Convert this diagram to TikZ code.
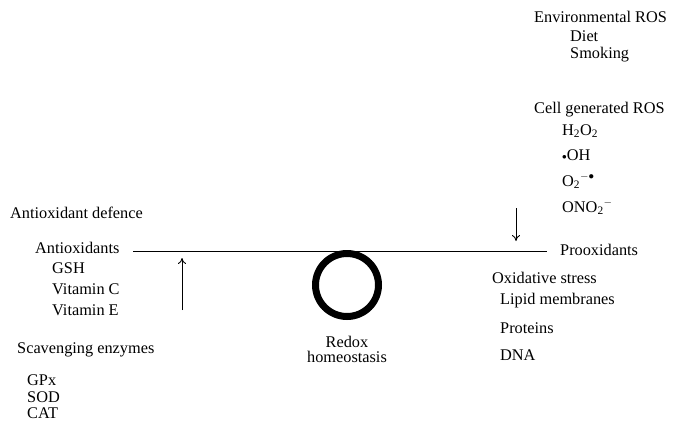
\documentclass[tikz,border=0pt]{standalone}
\usepackage{fontspec}
\setmainfont{Liberation Serif}
\usetikzlibrary{arrows.meta}
\begin{document}
\begin{tikzpicture}[x=1pt,y=-1pt,
  lbl/.style={anchor=west,inner sep=0pt,font=\fontsize{16.3}{18}\selectfont},
  conn/.style={line width=0.9pt,-{To[length=6pt,width=8pt]}}]
\useasboundingbox (0,0) rectangle (677,429);
% right side
\node[lbl] (env) at (534,17) {Environmental ROS};
\node[lbl] (diet) at (570,36) {Diet};
\node[lbl] (smk) at (570,55) {Smoking};
\node[lbl] (cell) at (534,110) {Cell generated ROS};
\node[lbl] (h2o2) at (562,131) {H\textsubscript{2}O\textsubscript{2}};
\node[lbl] (oh) at (562,155) {\raisebox{0.15ex}{\fontsize{9}{9}\selectfont$\bullet$}OH};
\node[lbl] (o2) at (562,181) {O\textsubscript{2}\textsuperscript{$-\bullet$}};
\node[lbl] (ono) at (562,207) {ONO\textsubscript{2}\textsuperscript{$-$}};
\node[lbl] (pro) at (560,250) {Prooxidants};
\node[lbl] (ox) at (492,278) {Oxidative stress};
\node[lbl] (lip) at (500,301) {Lipid membranes};
\node[lbl] (prot) at (500,328) {Proteins};
\node[lbl] (dna) at (500,355) {DNA};
% left side
\node[lbl] (def) at (10,213) {Antioxidant defence};
\node[lbl] (anti) at (35,248) {Antioxidants};
\node[lbl] (gsh) at (52,268) {GSH};
\node[lbl] (vc) at (52,289) {Vitamin C};
\node[lbl] (ve) at (52,310) {Vitamin E};
\node[lbl] (scav) at (17,350) {Scavenging enzymes};
\node[lbl] (gpx) at (27,380) {GPx};
\node[lbl] (sod) at (27,397) {SOD};
\node[lbl] (cat) at (27,413) {CAT};
% centre
\node[lbl,anchor=center,align=center] (redox) at (347,349) {Redox\\[-3pt]homeostasis};
\node[draw,circle,line width=7pt,minimum size=63pt,inner sep=0pt] (ring) at (347,285) {};
% balance beam
\coordinate (bl) at (133,251);
\coordinate (br) at (547,251);
\draw[line width=0.9pt] (bl) -- (br);
% arrows
\coordinate (a1s) at (516,208);
\coordinate (a1e) at (516,241);
\draw[conn] (a1s) -- (a1e);
\coordinate (a2s) at (182,310);
\coordinate (a2e) at (182,258);
\draw[conn] (a2s) -- (a2e);
\end{tikzpicture}
\end{document}
